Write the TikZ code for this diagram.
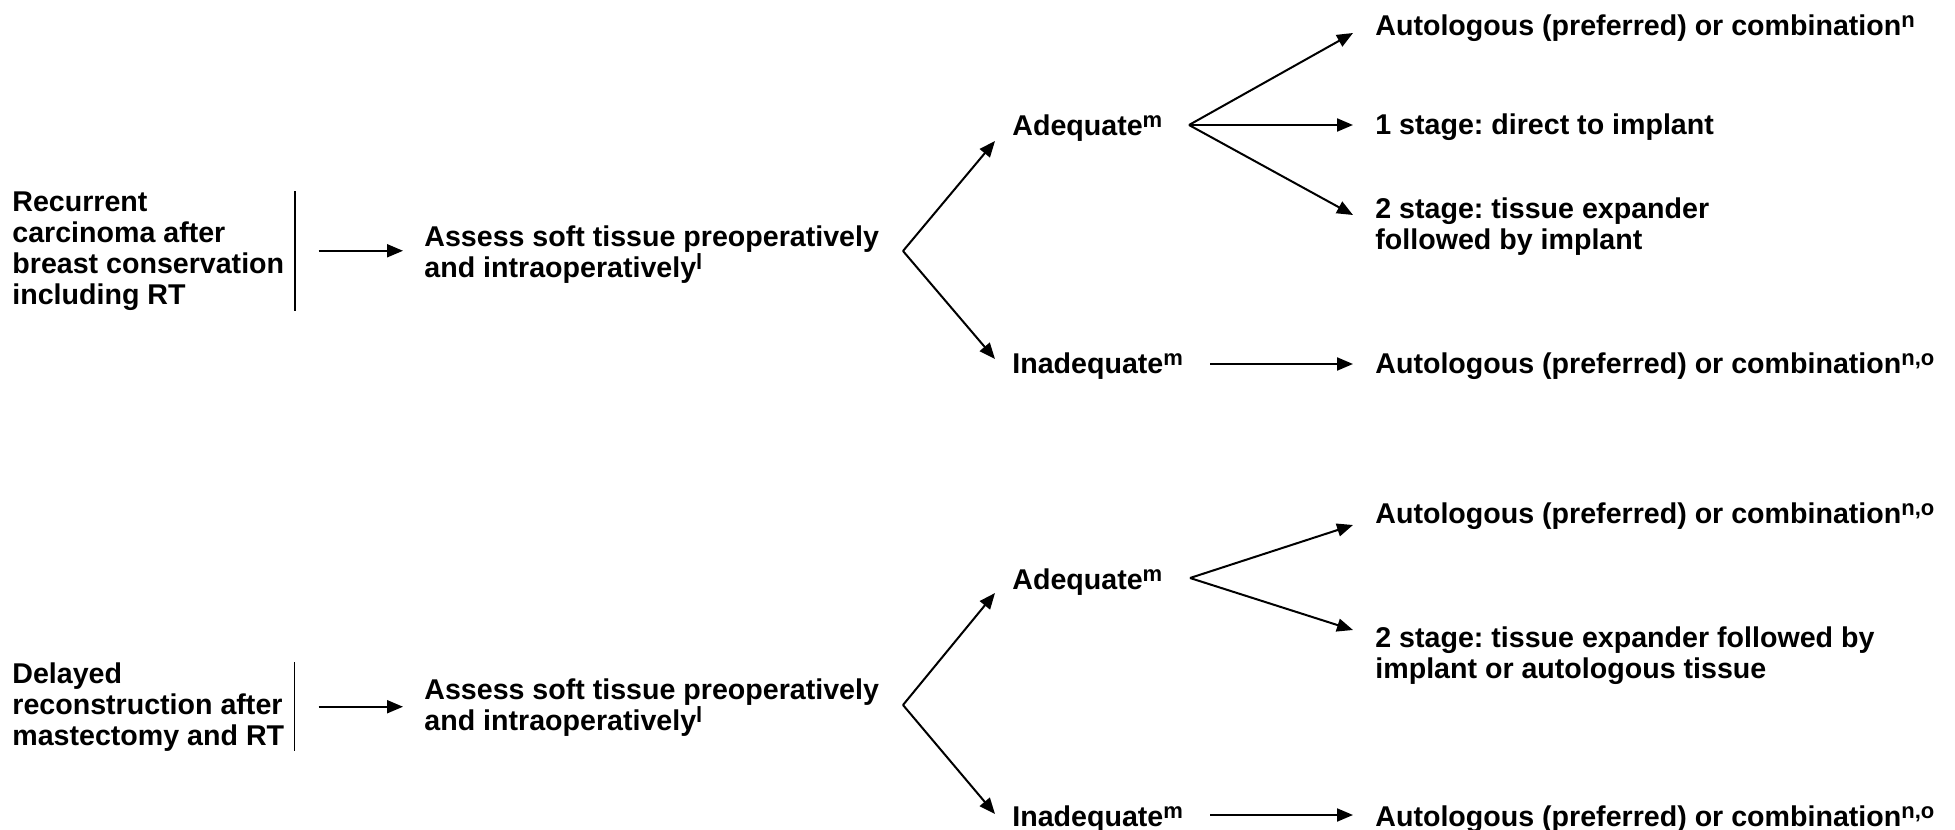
\documentclass[tikz,border=0pt]{standalone}
\usepackage{fontspec}
\setmainfont{Liberation Sans}
\usetikzlibrary{arrows.meta}
\frenchspacing
\newcommand\sups[1]{\raisebox{4pt}{\fontsize{11}{11}\selectfont #1}}

\begin{document}
\begin{tikzpicture}[x=0.5pt, y=-0.5pt,
	lbl/.style={inner sep=0pt, align=left, font=\bfseries\fontsize{14.3}{15.5}\selectfont},
	block/.style={lbl, anchor=north west},
	line/.style={lbl, anchor=base west},
	arr/.style={-{Triangle[length=8pt,width=6.5pt]}, line width=1pt},
	bar/.style={line width=0.9pt},
	]
	\useasboundingbox (0,0) rectangle (1955,830);

		%Nodes, recurrent carcinoma
	\node[block] (rec)    at (12,191)   {Recurrent\\carcinoma after\\breast conservation\\including RT};
	\node[block] (assA)   at (424,225)  {Assess soft tissue preoperatively\\and intraoperatively\sups{l}};
	\coordinate  (forkA)  at (903,251);
	\node[line]  (adeqA)  at (1012,135) {Adequate\sups{m}};
	\node[line]  (inadA)  at (1012,373) {Inadequate\sups{m}};
	\coordinate  (fanA)   at (1189,125);
	\node[line]  (autoA)  at (1375,35)  {Autologous (preferred) or combination\sups{n}};
	\node[line]  (oneA)   at (1375,134) {1 stage: direct to implant};
	\node[block] (twoA)   at (1375,197) {2 stage: tissue expander\\followed by implant};
	\node[line]  (autoB)  at (1375,373) {Autologous (preferred) or combination\sups{n,o}};

		%Nodes, delayed reconstruction
	\node[block] (del)    at (12,662)   {Delayed\\reconstruction after\\mastectomy and RT};
	\node[block] (assB)   at (424,678)  {Assess soft tissue preoperatively\\and intraoperatively\sups{l}};
	\coordinate  (forkB)  at (903,705);
	\node[line]  (adeqB)  at (1012,589) {Adequate\sups{m}};
	\node[line]  (inadB)  at (1012,826) {Inadequate\sups{m}};
	\coordinate  (fanB)   at (1190,578);
	\node[line]  (autoC)  at (1375,523) {Autologous (preferred) or combination\sups{n,o}};
	\node[block] (twoB)   at (1375,626) {2 stage: tissue expander followed by\\implant or autologous tissue};
	\node[line]  (autoD)  at (1375,826) {Autologous (preferred) or combination\sups{n,o}};

		%Lines, recurrent carcinoma
	\draw[bar] ([xshift=5pt]rec.north east) -- ([xshift=5pt]rec.south east);
	\draw[arr, shorten <=17pt, shorten >=10.5pt] (rec.east) -- (rec.east -| assA.west);
	\draw[arr] (forkA) -- ([xshift=-8.5pt, yshift=-3pt]adeqA.base west);
	\draw[arr] (forkA) -- ([xshift=-8.5pt, yshift=7pt]inadA.base west);
	\draw[arr] (fanA) -- ([xshift=-11pt, yshift=1pt]autoA.base west);
	\draw[arr] (fanA) -- ([xshift=-11pt, yshift=4.5pt]oneA.base west);
	\draw[arr] (fanA) -- ([xshift=-11pt, yshift=-9pt]twoA.north west);
	\draw[arr] ([xshift=13.5pt, yshift=4.5pt]inadA.base east) -- ([xshift=-11pt, yshift=4.5pt]autoB.base west);

		%Lines, delayed reconstruction
	\draw[bar] ([xshift=5pt]del.north east) -- ([xshift=5pt]del.south east);
	\draw[arr, shorten <=17pt, shorten >=10.5pt] (del.east) -- (del.east -| assB.west);
	\draw[arr] (forkB) -- ([xshift=-8.5pt, yshift=-2pt]adeqB.base west);
	\draw[arr] (forkB) -- ([xshift=-8.5pt, yshift=6pt]inadB.base west);
	\draw[arr] (fanB) -- ([xshift=-11pt, yshift=-1pt]autoC.base west);
	\draw[arr] (fanB) -- ([xshift=-11pt, yshift=-2pt]twoB.north west);
	\draw[arr] ([xshift=13.5pt, yshift=5.5pt]inadB.base east) -- ([xshift=-11pt, yshift=5.5pt]autoD.base west);
\end{tikzpicture}
\end{document}
